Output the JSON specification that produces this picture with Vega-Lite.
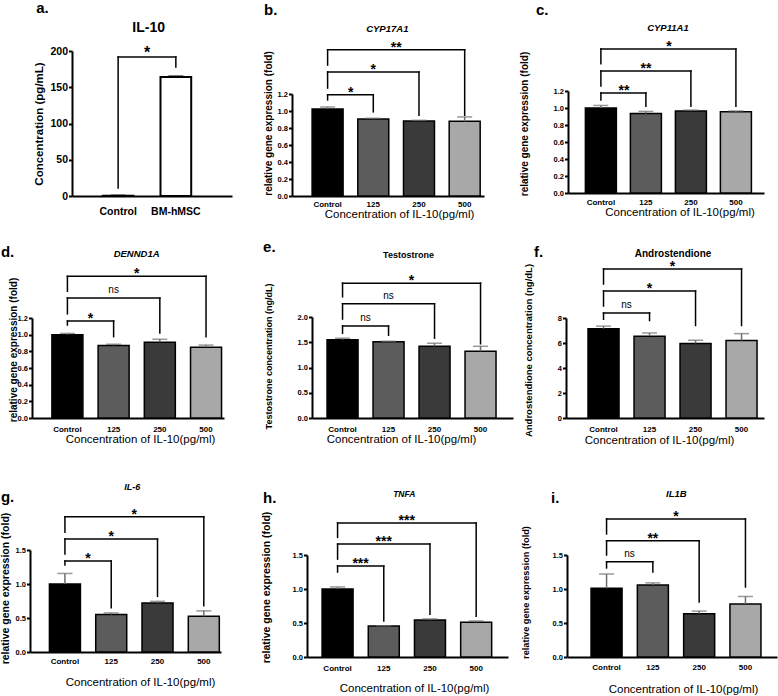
{
"$schema": "https://vega.github.io/schema/vega-lite/v6.json",
"padding": {"left": 0, "top": 1, "right": 0, "bottom": 0},
"background": "white",
"columns": 3,
"bounds": "flush",
"align": "each",
"spacing": {"row": 100, "column": 80},
"config": {
 "font": "Liberation Sans",
 "view": {"stroke": null},
 "axis": {"grid": false, "labelOverlap": false, "labelBound": false, "labelFlush": false, "domainColor": "#000000", "domainWidth": 2, "tickColor": "#000000", "tickWidth": 2, "labelColor": "#000000", "labelFont": "Liberation Sans", "labelFontWeight": "bold", "titleColor": "#000000", "titleFont": "Liberation Sans"},
 "axisX": {"ticks": false, "tickSize": 0, "labelAngle": 0, "labelFontSize": 8, "titleFontSize": 11.5, "titleFontWeight": "normal"},
 "axisY": {"tickSize": 3.5, "labelPadding": 1, "labelFontSize": 7.5, "titleFontWeight": "bold", "labelOverlap": false}
},
"concat": [
{
 "width": 160, "height": 145,
 "layer": [
  {"data": {"values": [{"g": "Control", "v": 0.3, "hi": 1}, {"g": "BM-hMSC", "v": 164, "hi": 165.5}]},
   "layer": [
    {"mark": {"type": "bar", "fill": "#ffffff", "stroke": "#000000", "strokeWidth": 2},
     "encoding": {
      "x": {"field": "g", "type": "nominal", "sort": null, "scale": {"domain": ["Control", "BM-hMSC"], "range": [0, 160], "paddingInner": 0.468, "paddingOuter": 0.62, "align": 0.43}, "axis": {"title": null, "labelFontSize": 10.5, "labelPadding": 10.5, "labelOverlap": false}},
      "y": {"field": "v", "type": "quantitative", "scale": {"domain": [0, 200], "range": [145, 0], "nice": false}, "axis": {"title": "Concentration (pg/mL)", "values": [0, 50, 100, 150, 200], "format": "d", "tickCount": 20, "labelOverlap": false, "labelFontSize": 10.5, "titleFontSize": 11.5, "titlePadding": 5}}
     }},
    {"mark": {"type": "rule", "color": "#000000", "strokeWidth": 1.5}, "encoding": {"x": {"field": "g", "type": "nominal"}, "y": {"field": "v", "type": "quantitative"}, "y2": {"field": "hi"}}},
    {"mark": {"type": "tick", "color": "#000000", "thickness": 1.5, "size": 15}, "encoding": {"x": {"field": "g", "type": "nominal"}, "y": {"field": "hi", "type": "quantitative"}}}
   ]},
  {"data": {"values": [{"from": "Control", "to": "BM-hMSC", "mid": "Control", "y": 191.7, "yl": 11, "yr": 178, "lab": "*"}]},
   "layer": [
    {"mark": {"type": "rule", "color": "#000000", "strokeWidth": 1.5, "strokeCap": "square"}, "encoding": {"x": {"field": "from", "type": "nominal"}, "x2": {"field": "to"}, "y": {"field": "y", "type": "quantitative"}}},
    {"mark": {"type": "rule", "color": "#000000", "strokeWidth": 1.5, "strokeCap": "square"}, "encoding": {"x": {"field": "from", "type": "nominal"}, "y": {"field": "y", "type": "quantitative"}, "y2": {"field": "yl"}}},
    {"mark": {"type": "rule", "color": "#000000", "strokeWidth": 1.5, "strokeCap": "square"}, "encoding": {"x": {"field": "to", "type": "nominal"}, "y": {"field": "y", "type": "quantitative"}, "y2": {"field": "yr"}}},
    {"mark": {"type": "text", "fontSize": 16, "fontWeight": "bold", "baseline": "alphabetic", "dx": 29, "dy": 1}, "encoding": {"x": {"field": "mid", "type": "nominal"}, "y": {"field": "y", "type": "quantitative"}, "text": {"field": "lab"}}}
   ]},
  {"data": {"values": [{"t": "a."}]}, "mark": {"type": "text", "fontSize": 15, "fontWeight": "bold", "align": "left", "baseline": "alphabetic", "dx": -82}, "encoding": {"x": {"datum": "Control"}, "y": {"datum": 252.4}, "text": {"field": "t"}}},
  {"data": {"values": [{"t": "IL-10"}]}, "mark": {"type": "text", "fontSize": 14, "fontWeight": "bold", "baseline": "alphabetic", "dx": 30.5}, "encoding": {"x": {"datum": "Control"}, "y": {"datum": 226.2}, "text": {"field": "t"}}}
 ]
},
{
 "width": 172, "height": 145,
 "layer": [
  {"data": {"values": [{"g": "Control", "v": 1.025, "hi": 1.047}, {"g": "125", "v": 0.905, "hi": 0.914}, {"g": "250", "v": 0.882, "hi": 0.89}, {"g": "500", "v": 0.878, "hi": 0.93}]},
   "layer": [
    {"mark": {"type": "bar", "stroke": "#000000", "strokeWidth": 1.5},
     "encoding": {
      "x": {"field": "g", "type": "nominal", "sort": null, "scale": {"domain": ["Control", "125", "250", "500"], "range": [-20, 172], "paddingInner": 0.322, "paddingOuter": 0.262, "align": 0.84}, "axis": {"title": "Concentration of IL-10(pg/ml)", "labelPadding": 4.6, "titlePadding": 0, "titleX": 87, "labelOverlap": false}},
      "y": {"field": "v", "type": "quantitative", "scale": {"domain": [0, 1.2], "range": [145, 43], "nice": false}, "axis": {"title": "relative gene expression (fold)", "values": [0, 0.2, 0.4, 0.6, 0.8, 1, 1.2], "tickCount": 20, "labelOverlap": false, "format": ".1f", "offset": 20, "titleFontSize": 10, "titlePadding": 4, "titleY": 72}},
      "color": {"field": "g", "type": "nominal", "scale": {"domain": ["Control", "125", "250", "500"], "range": ["#000000", "#5c5c5c", "#3a3a3a", "#a8a8a8"]}, "legend": null}
     }},
    {"mark": {"type": "rule", "color": "#6e6e6e", "strokeWidth": 1.5}, "encoding": {"x": {"field": "g", "type": "nominal"}, "y": {"field": "v", "type": "quantitative"}, "y2": {"field": "hi"}}},
    {"mark": {"type": "tick", "color": "#6e6e6e", "thickness": 1.5, "size": 15}, "encoding": {"x": {"field": "g", "type": "nominal"}, "y": {"field": "hi", "type": "quantitative"}}}
   ]},
  {"data": {"values": [
    {"from": "Control", "to": "125", "mid": "Control", "y": 1.19, "yl": 1.13, "yr": 0.99, "lab": "*"},
    {"from": "Control", "to": "250", "mid": "125", "y": 1.46, "yl": 1.27, "yr": 0.95, "lab": "*"},
    {"from": "Control", "to": "500", "mid": "125", "y": 1.72, "yl": 1.54, "yr": 0.95, "lab": "**"}]},
   "layer": [
    {"mark": {"type": "rule", "color": "#000000", "strokeWidth": 1.5, "strokeCap": "square"}, "encoding": {"x": {"field": "from", "type": "nominal"}, "x2": {"field": "to"}, "y": {"field": "y", "type": "quantitative"}}},
    {"mark": {"type": "rule", "color": "#000000", "strokeWidth": 1.5, "strokeCap": "square"}, "encoding": {"x": {"field": "from", "type": "nominal"}, "y": {"field": "y", "type": "quantitative"}, "y2": {"field": "yl"}}},
    {"mark": {"type": "rule", "color": "#000000", "strokeWidth": 1.5, "strokeCap": "square"}, "encoding": {"x": {"field": "to", "type": "nominal"}, "y": {"field": "y", "type": "quantitative"}, "y2": {"field": "yr"}}},
    {"transform": [{"filter": "datum.to == '250' && datum.lab != 'ns'"}], "mark": {"type": "text", "fontSize": 14, "fontWeight": "bold", "baseline": "alphabetic", "dy": 2}, "encoding": {"x": {"field": "mid", "type": "nominal"}, "y": {"field": "y", "type": "quantitative"}, "text": {"field": "lab"}}},
    {"transform": [{"filter": "datum.to != '250' && datum.lab != 'ns'"}], "mark": {"type": "text", "fontSize": 14, "fontWeight": "bold", "baseline": "alphabetic", "dy": 2, "dx": 23}, "encoding": {"x": {"field": "mid", "type": "nominal"}, "y": {"field": "y", "type": "quantitative"}, "text": {"field": "lab"}}}
   ]},
  {"data": {"values": [{"t": "b."}]}, "mark": {"type": "text", "fontSize": 15, "fontWeight": "bold", "align": "left", "baseline": "alphabetic", "dx": -63.5}, "encoding": {"x": {"datum": "Control"}, "y": {"datum": 2.129}, "text": {"field": "t"}}},
  {"data": {"values": [{"t": "CYP17A1"}]}, "mark": {"type": "text", "fontSize": 9.5, "fontWeight": "bold", "fontStyle": "italic", "baseline": "alphabetic", "dx": 14}, "encoding": {"x": {"datum": "125"}, "y": {"datum": 1.929}, "text": {"field": "t"}}}
 ]
},
{
 "width": 171, "height": 142,
 "layer": [
  {"data": {"values": [{"g": "Control", "v": 1.0, "hi": 1.03}, {"g": "125", "v": 0.935, "hi": 0.96}, {"g": "250", "v": 0.965, "hi": 0.975}, {"g": "500", "v": 0.955, "hi": 0.965}]},
   "layer": [
    {"mark": {"type": "bar", "stroke": "#000000", "strokeWidth": 1.5},
     "encoding": {
      "x": {"field": "g", "type": "nominal", "sort": null, "scale": {"domain": ["Control", "125", "250", "500"], "range": [-25, 171], "paddingInner": 0.311, "paddingOuter": 0.333, "align": 0.58}, "axis": {"title": "Concentration of IL-10(pg/ml)", "labelPadding": 5, "titlePadding": 0, "titleX": 86.5, "labelOverlap": false}},
      "y": {"field": "v", "type": "quantitative", "scale": {"domain": [0, 1.2], "range": [142, 40], "nice": false}, "axis": {"title": "relative gene expression (fold)", "values": [0, 0.2, 0.4, 0.6, 0.8, 1, 1.2], "tickCount": 20, "labelOverlap": false, "format": ".1f", "offset": 25, "titleFontSize": 10, "titlePadding": 24, "titleY": 72.5}},
      "color": {"field": "g", "type": "nominal", "scale": {"domain": ["Control", "125", "250", "500"], "range": ["#000000", "#5c5c5c", "#3a3a3a", "#a8a8a8"]}, "legend": null}
     }},
    {"mark": {"type": "rule", "color": "#6e6e6e", "strokeWidth": 1.5}, "encoding": {"x": {"field": "g", "type": "nominal"}, "y": {"field": "v", "type": "quantitative"}, "y2": {"field": "hi"}}},
    {"mark": {"type": "tick", "color": "#6e6e6e", "thickness": 1.5, "size": 15}, "encoding": {"x": {"field": "g", "type": "nominal"}, "y": {"field": "hi", "type": "quantitative"}}}
   ]},
  {"data": {"values": [
    {"from": "Control", "to": "125", "mid": "Control", "y": 1.176, "yl": 1.094, "yr": 1.02, "lab": "**"},
    {"from": "Control", "to": "250", "mid": "125", "y": 1.435, "yl": 1.26, "yr": 1.02, "lab": "**"},
    {"from": "Control", "to": "500", "mid": "125", "y": 1.694, "yl": 1.52, "yr": 1.02, "lab": "*"}]},
   "layer": [
    {"mark": {"type": "rule", "color": "#000000", "strokeWidth": 1.5, "strokeCap": "square"}, "encoding": {"x": {"field": "from", "type": "nominal"}, "x2": {"field": "to"}, "y": {"field": "y", "type": "quantitative"}}},
    {"mark": {"type": "rule", "color": "#000000", "strokeWidth": 1.5, "strokeCap": "square"}, "encoding": {"x": {"field": "from", "type": "nominal"}, "y": {"field": "y", "type": "quantitative"}, "y2": {"field": "yl"}}},
    {"mark": {"type": "rule", "color": "#000000", "strokeWidth": 1.5, "strokeCap": "square"}, "encoding": {"x": {"field": "to", "type": "nominal"}, "y": {"field": "y", "type": "quantitative"}, "y2": {"field": "yr"}}},
    {"transform": [{"filter": "datum.to == '250' && datum.lab != 'ns'"}], "mark": {"type": "text", "fontSize": 14, "fontWeight": "bold", "baseline": "alphabetic", "dy": 2}, "encoding": {"x": {"field": "mid", "type": "nominal"}, "y": {"field": "y", "type": "quantitative"}, "text": {"field": "lab"}}},
    {"transform": [{"filter": "datum.to != '250' && datum.lab != 'ns'"}], "mark": {"type": "text", "fontSize": 14, "fontWeight": "bold", "baseline": "alphabetic", "dy": 2, "dx": 23}, "encoding": {"x": {"field": "mid", "type": "nominal"}, "y": {"field": "y", "type": "quantitative"}, "text": {"field": "lab"}}}
   ]},
  {"data": {"values": [{"t": "c."}]}, "mark": {"type": "text", "fontSize": 15, "fontWeight": "bold", "align": "left", "baseline": "alphabetic", "dx": -65}, "encoding": {"x": {"datum": "Control"}, "y": {"datum": 2.094}, "text": {"field": "t"}}},
  {"data": {"values": [{"t": "CYP11A1"}]}, "mark": {"type": "text", "fontSize": 9.5, "fontWeight": "bold", "fontStyle": "italic", "baseline": "alphabetic", "dx": 22}, "encoding": {"x": {"datum": "125"}, "y": {"datum": 1.906}, "text": {"field": "t"}}}
 ]
},
{
 "width": 152, "height": 122,
 "layer": [
  {"data": {"values": [{"g": "Control", "v": 1.0, "hi": 1.015}, {"g": "125", "v": 0.87, "hi": 0.885}, {"g": "250", "v": 0.91, "hi": 0.945}, {"g": "500", "v": 0.85, "hi": 0.875}]},
   "layer": [
    {"mark": {"type": "bar", "stroke": "#000000", "strokeWidth": 1.5},
     "encoding": {
      "x": {"field": "g", "type": "nominal", "sort": null, "scale": {"domain": ["Control", "125", "250", "500"], "range": [-40, 152], "paddingInner": 0.329, "paddingOuter": 0.242, "align": 0.89}, "axis": {"title": "Concentration of IL-10(pg/ml)", "labelPadding": 7, "titlePadding": 0, "titleX": 68, "labelOverlap": false}},
      "y": {"field": "v", "type": "quantitative", "scale": {"domain": [0, 1.2], "range": [122, 22], "nice": false}, "axis": {"title": "relative gene expression (fold)", "values": [0, 0.2, 0.4, 0.6, 0.8, 1, 1.2], "tickCount": 20, "labelOverlap": false, "format": ".1f", "offset": 40, "titleFontSize": 10, "titlePadding": -1, "titleY": 53.5}},
      "color": {"field": "g", "type": "nominal", "scale": {"domain": ["Control", "125", "250", "500"], "range": ["#000000", "#5c5c5c", "#3a3a3a", "#a8a8a8"]}, "legend": null}
     }},
    {"mark": {"type": "rule", "color": "#6e6e6e", "strokeWidth": 1.5}, "encoding": {"x": {"field": "g", "type": "nominal"}, "y": {"field": "v", "type": "quantitative"}, "y2": {"field": "hi"}}},
    {"mark": {"type": "tick", "color": "#6e6e6e", "thickness": 1.5, "size": 15}, "encoding": {"x": {"field": "g", "type": "nominal"}, "y": {"field": "hi", "type": "quantitative"}}}
   ]},
  {"data": {"values": [
    {"from": "Control", "to": "125", "mid": "Control", "y": 1.164, "yl": 1.116, "yr": 0.976, "lab": "*"},
    {"from": "Control", "to": "250", "mid": "125", "y": 1.44, "yl": 1.25, "yr": 1.02, "lab": "ns"},
    {"from": "Control", "to": "500", "mid": "125", "y": 1.70, "yl": 1.52, "yr": 0.976, "lab": "*"}]},
   "layer": [
    {"mark": {"type": "rule", "color": "#000000", "strokeWidth": 1.5, "strokeCap": "square"}, "encoding": {"x": {"field": "from", "type": "nominal"}, "x2": {"field": "to"}, "y": {"field": "y", "type": "quantitative"}}},
    {"mark": {"type": "rule", "color": "#000000", "strokeWidth": 1.5, "strokeCap": "square"}, "encoding": {"x": {"field": "from", "type": "nominal"}, "y": {"field": "y", "type": "quantitative"}, "y2": {"field": "yl"}}},
    {"mark": {"type": "rule", "color": "#000000", "strokeWidth": 1.5, "strokeCap": "square"}, "encoding": {"x": {"field": "to", "type": "nominal"}, "y": {"field": "y", "type": "quantitative"}, "y2": {"field": "yr"}}},
    {"transform": [{"filter": "datum.to != '250' && datum.lab != 'ns'"}], "mark": {"type": "text", "fontSize": 14, "fontWeight": "bold", "baseline": "alphabetic", "dy": 2, "dx": 23}, "encoding": {"x": {"field": "mid", "type": "nominal"}, "y": {"field": "y", "type": "quantitative"}, "text": {"field": "lab"}}},
    {"transform": [{"filter": "datum.to == '250' && datum.lab == 'ns'"}], "mark": {"type": "text", "fontSize": 10, "baseline": "alphabetic", "dy": -5}, "encoding": {"x": {"field": "mid", "type": "nominal"}, "y": {"field": "y", "type": "quantitative"}, "text": {"field": "lab"}}}
   ]},
  {"data": {"values": [{"t": "d."}]}, "mark": {"type": "text", "fontSize": 15, "fontWeight": "bold", "align": "left", "baseline": "alphabetic", "dx": -66.5}, "encoding": {"x": {"datum": "Control"}, "y": {"datum": 1.933}, "text": {"field": "t"}}},
  {"data": {"values": [{"t": "DENND1A"}]}, "mark": {"type": "text", "fontSize": 9.5, "fontWeight": "bold", "fontStyle": "italic", "baseline": "alphabetic", "dx": 23}, "encoding": {"x": {"datum": "125"}, "y": {"datum": 1.933}, "text": {"field": "t"}}}
 ]
},
{
 "width": 201, "height": 122,
 "layer": [
  {"data": {"values": [{"g": "Control", "v": 1.55, "hi": 1.58}, {"g": "125", "v": 1.51, "hi": 1.52}, {"g": "250", "v": 1.42, "hi": 1.48}, {"g": "500", "v": 1.32, "hi": 1.42}]},
   "layer": [
    {"mark": {"type": "bar", "stroke": "#000000", "strokeWidth": 1.5},
     "encoding": {
      "x": {"field": "g", "type": "nominal", "sort": null, "scale": {"domain": ["Control", "125", "250", "500"], "range": [0, 201], "paddingInner": 0.326, "paddingOuter": 0.348, "align": 0.47}, "axis": {"title": "Concentration of IL-10(pg/ml)", "labelPadding": 7, "titlePadding": 0, "titleX": 89, "labelOverlap": false}},
      "y": {"field": "v", "type": "quantitative", "scale": {"domain": [0, 2], "range": [122, 21], "nice": false}, "axis": {"title": "Testostrone concentration (ng/dL)", "values": [0, 0.5, 1, 1.5, 2], "tickCount": 20, "labelOverlap": false, "format": ".1f", "titleFontSize": 9, "titlePadding": 23.6, "titleY": 60}},
      "color": {"field": "g", "type": "nominal", "scale": {"domain": ["Control", "125", "250", "500"], "range": ["#000000", "#5c5c5c", "#3a3a3a", "#a8a8a8"]}, "legend": null}
     }},
    {"mark": {"type": "rule", "color": "#6e6e6e", "strokeWidth": 1.5}, "encoding": {"x": {"field": "g", "type": "nominal"}, "y": {"field": "v", "type": "quantitative"}, "y2": {"field": "hi"}}},
    {"mark": {"type": "tick", "color": "#6e6e6e", "thickness": 1.5, "size": 15}, "encoding": {"x": {"field": "g", "type": "nominal"}, "y": {"field": "hi", "type": "quantitative"}}}
   ]},
  {"data": {"values": [
    {"from": "Control", "to": "125", "mid": "Control", "y": 1.82, "yl": 1.68, "yr": 1.64, "lab": "ns"},
    {"from": "Control", "to": "250", "mid": "125", "y": 2.26, "yl": 1.96, "yr": 1.58, "lab": "ns"},
    {"from": "Control", "to": "500", "mid": "125", "y": 2.67, "yl": 2.40, "yr": 1.47, "lab": "*"}]},
   "layer": [
    {"mark": {"type": "rule", "color": "#000000", "strokeWidth": 1.5, "strokeCap": "square"}, "encoding": {"x": {"field": "from", "type": "nominal"}, "x2": {"field": "to"}, "y": {"field": "y", "type": "quantitative"}}},
    {"mark": {"type": "rule", "color": "#000000", "strokeWidth": 1.5, "strokeCap": "square"}, "encoding": {"x": {"field": "from", "type": "nominal"}, "y": {"field": "y", "type": "quantitative"}, "y2": {"field": "yl"}}},
    {"mark": {"type": "rule", "color": "#000000", "strokeWidth": 1.5, "strokeCap": "square"}, "encoding": {"x": {"field": "to", "type": "nominal"}, "y": {"field": "y", "type": "quantitative"}, "y2": {"field": "yr"}}},
    {"transform": [{"filter": "datum.to != '250' && datum.lab != 'ns'"}], "mark": {"type": "text", "fontSize": 14, "fontWeight": "bold", "baseline": "alphabetic", "dy": 2, "dx": 23}, "encoding": {"x": {"field": "mid", "type": "nominal"}, "y": {"field": "y", "type": "quantitative"}, "text": {"field": "lab"}}},
    {"transform": [{"filter": "datum.to == '250' && datum.lab == 'ns'"}], "mark": {"type": "text", "fontSize": 10, "baseline": "alphabetic", "dy": -5}, "encoding": {"x": {"field": "mid", "type": "nominal"}, "y": {"field": "y", "type": "quantitative"}, "text": {"field": "lab"}}},
    {"transform": [{"filter": "datum.to != '250' && datum.lab == 'ns'"}], "mark": {"type": "text", "fontSize": 10, "baseline": "alphabetic", "dy": -5, "dx": 23}, "encoding": {"x": {"field": "mid", "type": "nominal"}, "y": {"field": "y", "type": "quantitative"}, "text": {"field": "lab"}}}
   ]},
  {"data": {"values": [{"t": "e."}]}, "mark": {"type": "text", "fontSize": 15, "fontWeight": "bold", "align": "left", "baseline": "alphabetic", "dx": -79.5}, "encoding": {"x": {"datum": "Control"}, "y": {"datum": 3.287}, "text": {"field": "t"}}},
  {"data": {"values": [{"t": "Testostrone"}]}, "mark": {"type": "text", "fontSize": 9, "fontWeight": "bold", "baseline": "alphabetic", "dx": 20}, "encoding": {"x": {"datum": "125"}, "y": {"datum": 3.168}, "text": {"field": "t"}}}
 ]
},
{
 "width": 171, "height": 122,
 "layer": [
  {"data": {"values": [{"g": "Control", "v": 7.15, "hi": 7.35}, {"g": "125", "v": 6.55, "hi": 6.8}, {"g": "250", "v": 5.97, "hi": 6.22}, {"g": "500", "v": 6.2, "hi": 6.75}]},
   "layer": [
    {"mark": {"type": "bar", "stroke": "#000000", "strokeWidth": 1.5},
     "encoding": {
      "x": {"field": "g", "type": "nominal", "sort": null, "scale": {"domain": ["Control", "125", "250", "500"], "range": [-27, 171], "paddingInner": 0.326, "paddingOuter": 0.315, "align": 0.76}, "axis": {"title": "Concentration of IL-10(pg/ml)", "labelPadding": 7, "titlePadding": 1, "titleX": 66, "labelOverlap": false}},
      "y": {"field": "v", "type": "quantitative", "scale": {"domain": [0, 8], "range": [122, 22], "nice": false}, "axis": {"title": "Androstendione concentration (ng/dL)", "values": [0, 2, 4, 6, 8], "format": "d", "tickCount": 20, "labelOverlap": false, "offset": 27, "titleFontSize": 9.5, "titlePadding": 23.5, "titleY": 54}},
      "color": {"field": "g", "type": "nominal", "scale": {"domain": ["Control", "125", "250", "500"], "range": ["#000000", "#5c5c5c", "#3a3a3a", "#a8a8a8"]}, "legend": null}
     }},
    {"mark": {"type": "rule", "color": "#6e6e6e", "strokeWidth": 1.5}, "encoding": {"x": {"field": "g", "type": "nominal"}, "y": {"field": "v", "type": "quantitative"}, "y2": {"field": "hi"}}},
    {"mark": {"type": "tick", "color": "#6e6e6e", "thickness": 1.5, "size": 15}, "encoding": {"x": {"field": "g", "type": "nominal"}, "y": {"field": "hi", "type": "quantitative"}}}
   ]},
  {"data": {"values": [
    {"from": "Control", "to": "125", "mid": "Control", "y": 8.4, "yl": 7.9, "yr": 7.8, "lab": "ns"},
    {"from": "Control", "to": "250", "mid": "125", "y": 10.16, "yl": 8.96, "yr": 7.4, "lab": "*"},
    {"from": "Control", "to": "500", "mid": "125", "y": 11.92, "yl": 10.72, "yr": 7.4, "lab": "*"}]},
   "layer": [
    {"mark": {"type": "rule", "color": "#000000", "strokeWidth": 1.5, "strokeCap": "square"}, "encoding": {"x": {"field": "from", "type": "nominal"}, "x2": {"field": "to"}, "y": {"field": "y", "type": "quantitative"}}},
    {"mark": {"type": "rule", "color": "#000000", "strokeWidth": 1.5, "strokeCap": "square"}, "encoding": {"x": {"field": "from", "type": "nominal"}, "y": {"field": "y", "type": "quantitative"}, "y2": {"field": "yl"}}},
    {"mark": {"type": "rule", "color": "#000000", "strokeWidth": 1.5, "strokeCap": "square"}, "encoding": {"x": {"field": "to", "type": "nominal"}, "y": {"field": "y", "type": "quantitative"}, "y2": {"field": "yr"}}},
    {"transform": [{"filter": "datum.to == '250' && datum.lab != 'ns'"}], "mark": {"type": "text", "fontSize": 14, "fontWeight": "bold", "baseline": "alphabetic", "dy": 2}, "encoding": {"x": {"field": "mid", "type": "nominal"}, "y": {"field": "y", "type": "quantitative"}, "text": {"field": "lab"}}},
    {"transform": [{"filter": "datum.to != '250' && datum.lab != 'ns'"}], "mark": {"type": "text", "fontSize": 14, "fontWeight": "bold", "baseline": "alphabetic", "dy": 2, "dx": 23}, "encoding": {"x": {"field": "mid", "type": "nominal"}, "y": {"field": "y", "type": "quantitative"}, "text": {"field": "lab"}}},
    {"transform": [{"filter": "datum.to != '250' && datum.lab == 'ns'"}], "mark": {"type": "text", "fontSize": 10, "baseline": "alphabetic", "dy": -5, "dx": 23}, "encoding": {"x": {"field": "mid", "type": "nominal"}, "y": {"field": "y", "type": "quantitative"}, "text": {"field": "lab"}}}
   ]},
  {"data": {"values": [{"t": "f."}]}, "mark": {"type": "text", "fontSize": 15, "fontWeight": "bold", "align": "left", "baseline": "alphabetic", "dx": -69.5}, "encoding": {"x": {"datum": "Control"}, "y": {"datum": 12.88}, "text": {"field": "t"}}},
  {"data": {"values": [{"t": "Androstendione"}]}, "mark": {"type": "text", "fontSize": 10, "fontWeight": "bold", "baseline": "alphabetic", "dx": 23.5}, "encoding": {"x": {"datum": "125"}, "y": {"datum": 12.88}, "text": {"field": "t"}}}
 ]
},
{
 "width": 149, "height": 134,
 "layer": [
  {"data": {"values": [{"g": "Control", "v": 1.0, "hi": 1.155}, {"g": "125", "v": 0.55, "hi": 0.575}, {"g": "250", "v": 0.72, "hi": 0.745}, {"g": "500", "v": 0.525, "hi": 0.605}]},
   "layer": [
    {"mark": {"type": "bar", "stroke": "#000000", "strokeWidth": 1.5},
     "encoding": {
      "x": {"field": "g", "type": "nominal", "sort": null, "scale": {"domain": ["Control", "125", "250", "500"], "range": [-42, 149], "paddingInner": 0.33, "paddingOuter": 0.228, "align": 0.92}, "axis": {"title": "Concentration of IL-10(pg/ml)", "labelPadding": 5.6, "titlePadding": 11.1, "titleX": 68, "labelOverlap": false}},
      "y": {"field": "v", "type": "quantitative", "scale": {"domain": [0, 1.5], "range": [134, 32], "nice": false}, "axis": {"title": "relative gene expression (fold)", "values": [0, 0.5, 1, 1.5], "tickCount": 20, "labelOverlap": false, "format": ".1f", "offset": 42, "titleFontSize": 10.5, "titlePadding": 4.8, "titleY": 70}},
      "color": {"field": "g", "type": "nominal", "scale": {"domain": ["Control", "125", "250", "500"], "range": ["#000000", "#5c5c5c", "#3a3a3a", "#a8a8a8"]}, "legend": null}
     }},
    {"mark": {"type": "rule", "color": "#6e6e6e", "strokeWidth": 1.5}, "encoding": {"x": {"field": "g", "type": "nominal"}, "y": {"field": "v", "type": "quantitative"}, "y2": {"field": "hi"}}},
    {"mark": {"type": "tick", "color": "#6e6e6e", "thickness": 1.5, "size": 15}, "encoding": {"x": {"field": "g", "type": "nominal"}, "y": {"field": "hi", "type": "quantitative"}}}
   ]},
  {"data": {"values": [
    {"from": "Control", "to": "125", "mid": "Control", "y": 1.34, "yl": 1.28, "yr": 0.65, "lab": "*"},
    {"from": "Control", "to": "250", "mid": "125", "y": 1.66, "yl": 1.44, "yr": 0.82, "lab": "*"},
    {"from": "Control", "to": "500", "mid": "125", "y": 1.99, "yl": 1.76, "yr": 0.68, "lab": "*"}]},
   "layer": [
    {"mark": {"type": "rule", "color": "#000000", "strokeWidth": 1.5, "strokeCap": "square"}, "encoding": {"x": {"field": "from", "type": "nominal"}, "x2": {"field": "to"}, "y": {"field": "y", "type": "quantitative"}}},
    {"mark": {"type": "rule", "color": "#000000", "strokeWidth": 1.5, "strokeCap": "square"}, "encoding": {"x": {"field": "from", "type": "nominal"}, "y": {"field": "y", "type": "quantitative"}, "y2": {"field": "yl"}}},
    {"mark": {"type": "rule", "color": "#000000", "strokeWidth": 1.5, "strokeCap": "square"}, "encoding": {"x": {"field": "to", "type": "nominal"}, "y": {"field": "y", "type": "quantitative"}, "y2": {"field": "yr"}}},
    {"transform": [{"filter": "datum.to == '250' && datum.lab != 'ns'"}], "mark": {"type": "text", "fontSize": 14, "fontWeight": "bold", "baseline": "alphabetic", "dy": 2}, "encoding": {"x": {"field": "mid", "type": "nominal"}, "y": {"field": "y", "type": "quantitative"}, "text": {"field": "lab"}}},
    {"transform": [{"filter": "datum.to != '250' && datum.lab != 'ns'"}], "mark": {"type": "text", "fontSize": 14, "fontWeight": "bold", "baseline": "alphabetic", "dy": 2, "dx": 23}, "encoding": {"x": {"field": "mid", "type": "nominal"}, "y": {"field": "y", "type": "quantitative"}, "text": {"field": "lab"}}}
   ]},
  {"data": {"values": [{"t": "g."}]}, "mark": {"type": "text", "fontSize": 15, "fontWeight": "bold", "align": "left", "baseline": "alphabetic", "dx": -64}, "encoding": {"x": {"datum": "Control"}, "y": {"datum": 2.206}, "text": {"field": "t"}}},
  {"data": {"values": [{"t": "IL-6"}]}, "mark": {"type": "text", "fontSize": 9, "fontWeight": "bold", "fontStyle": "italic", "baseline": "alphabetic", "dx": 21}, "encoding": {"x": {"datum": "125"}, "y": {"datum": 2.382}, "text": {"field": "t"}}}
 ]
},
{
 "width": 196, "height": 139,
 "layer": [
  {"data": {"values": [{"g": "Control", "v": 1.0, "hi": 1.03}, {"g": "125", "v": 0.455, "hi": 0.46}, {"g": "250", "v": 0.545, "hi": 0.56}, {"g": "500", "v": 0.51, "hi": 0.53}]},
   "layer": [
    {"mark": {"type": "bar", "stroke": "#000000", "strokeWidth": 1.5},
     "encoding": {
      "x": {"field": "g", "type": "nominal", "sort": null, "scale": {"domain": ["Control", "125", "250", "500"], "range": [-5, 196], "paddingInner": 0.329, "paddingOuter": 0.34, "align": 0.48}, "axis": {"title": "Concentration of IL-10(pg/ml)", "labelPadding": 7.6, "titlePadding": 10.1, "titleX": 102, "labelOverlap": false}},
      "y": {"field": "v", "type": "quantitative", "scale": {"domain": [0, 1.5], "range": [139, 37], "nice": false}, "axis": {"title": "relative gene expression (fold)", "values": [0, 0.5, 1, 1.5], "tickCount": 20, "labelOverlap": false, "format": ".1f", "offset": 5, "titleFontSize": 10.5, "titlePadding": 20.8, "titleY": 69}},
      "color": {"field": "g", "type": "nominal", "scale": {"domain": ["Control", "125", "250", "500"], "range": ["#000000", "#5c5c5c", "#3a3a3a", "#a8a8a8"]}, "legend": null}
     }},
    {"mark": {"type": "rule", "color": "#6e6e6e", "strokeWidth": 1.5}, "encoding": {"x": {"field": "g", "type": "nominal"}, "y": {"field": "v", "type": "quantitative"}, "y2": {"field": "hi"}}},
    {"mark": {"type": "tick", "color": "#6e6e6e", "thickness": 1.5, "size": 15}, "encoding": {"x": {"field": "g", "type": "nominal"}, "y": {"field": "hi", "type": "quantitative"}}}
   ]},
  {"data": {"values": [
    {"from": "Control", "to": "125", "mid": "Control", "y": 1.34, "yl": 1.25, "yr": 0.53, "lab": "***"},
    {"from": "Control", "to": "250", "mid": "125", "y": 1.66, "yl": 1.44, "yr": 0.63, "lab": "***"},
    {"from": "Control", "to": "500", "mid": "125", "y": 1.97, "yl": 1.76, "yr": 0.60, "lab": "***"}]},
   "layer": [
    {"mark": {"type": "rule", "color": "#000000", "strokeWidth": 1.5, "strokeCap": "square"}, "encoding": {"x": {"field": "from", "type": "nominal"}, "x2": {"field": "to"}, "y": {"field": "y", "type": "quantitative"}}},
    {"mark": {"type": "rule", "color": "#000000", "strokeWidth": 1.5, "strokeCap": "square"}, "encoding": {"x": {"field": "from", "type": "nominal"}, "y": {"field": "y", "type": "quantitative"}, "y2": {"field": "yl"}}},
    {"mark": {"type": "rule", "color": "#000000", "strokeWidth": 1.5, "strokeCap": "square"}, "encoding": {"x": {"field": "to", "type": "nominal"}, "y": {"field": "y", "type": "quantitative"}, "y2": {"field": "yr"}}},
    {"transform": [{"filter": "datum.to == '250' && datum.lab != 'ns'"}], "mark": {"type": "text", "fontSize": 14, "fontWeight": "bold", "baseline": "alphabetic", "dy": 2}, "encoding": {"x": {"field": "mid", "type": "nominal"}, "y": {"field": "y", "type": "quantitative"}, "text": {"field": "lab"}}},
    {"transform": [{"filter": "datum.to != '250' && datum.lab != 'ns'"}], "mark": {"type": "text", "fontSize": 14, "fontWeight": "bold", "baseline": "alphabetic", "dy": 2, "dx": 23}, "encoding": {"x": {"field": "mid", "type": "nominal"}, "y": {"field": "y", "type": "quantitative"}, "text": {"field": "lab"}}}
   ]},
  {"data": {"values": [{"t": "h."}]}, "mark": {"type": "text", "fontSize": 15, "fontWeight": "bold", "align": "left", "baseline": "alphabetic", "dx": -74.5}, "encoding": {"x": {"datum": "Control"}, "y": {"datum": 2.265}, "text": {"field": "t"}}},
  {"data": {"values": [{"t": "TNFA"}]}, "mark": {"type": "text", "fontSize": 8.5, "fontWeight": "bold", "fontStyle": "italic", "baseline": "alphabetic", "dx": 20.5}, "encoding": {"x": {"datum": "125"}, "y": {"datum": 2.353}, "text": {"field": "t"}}}
 ]
},
{
 "width": 184, "height": 139,
 "layer": [
  {"data": {"values": [{"g": "Control", "v": 1.01, "hi": 1.22}, {"g": "125", "v": 1.06, "hi": 1.09}, {"g": "250", "v": 0.635, "hi": 0.675}, {"g": "500", "v": 0.78, "hi": 0.89}]},
   "layer": [
    {"mark": {"type": "bar", "stroke": "#000000", "strokeWidth": 1.5},
     "encoding": {
      "x": {"field": "g", "type": "nominal", "sort": null, "scale": {"domain": ["Control", "125", "250", "500"], "range": [-26, 184], "paddingInner": 0.33, "paddingOuter": 0.433, "align": 0.6}, "axis": {"title": "Concentration of IL-10(pg/ml)", "labelPadding": 6.6, "titlePadding": 12.1, "titleX": 90, "labelOverlap": false}},
      "y": {"field": "v", "type": "quantitative", "scale": {"domain": [0, 1.5], "range": [139, 37], "nice": false}, "axis": {"title": "relative gene expression (fold)", "values": [0, 0.5, 1, 1.5], "tickCount": 20, "labelOverlap": false, "format": ".1f", "offset": 26, "titleFontSize": 9.2, "titlePadding": 21.5, "titleY": 74}},
      "color": {"field": "g", "type": "nominal", "scale": {"domain": ["Control", "125", "250", "500"], "range": ["#000000", "#5c5c5c", "#3a3a3a", "#a8a8a8"]}, "legend": null}
     }},
    {"mark": {"type": "rule", "color": "#6e6e6e", "strokeWidth": 1.5}, "encoding": {"x": {"field": "g", "type": "nominal"}, "y": {"field": "v", "type": "quantitative"}, "y2": {"field": "hi"}}},
    {"mark": {"type": "tick", "color": "#6e6e6e", "thickness": 1.5, "size": 15}, "encoding": {"x": {"field": "g", "type": "nominal"}, "y": {"field": "hi", "type": "quantitative"}}}
   ]},
  {"data": {"values": [
    {"from": "Control", "to": "125", "mid": "Control", "y": 1.40, "yl": 1.31, "yr": 1.25, "lab": "ns"},
    {"from": "Control", "to": "250", "mid": "125", "y": 1.71, "yl": 1.50, "yr": 0.81, "lab": "**"},
    {"from": "Control", "to": "500", "mid": "125", "y": 2.03, "yl": 1.81, "yr": 1.03, "lab": "*"}]},
   "layer": [
    {"mark": {"type": "rule", "color": "#000000", "strokeWidth": 1.5, "strokeCap": "square"}, "encoding": {"x": {"field": "from", "type": "nominal"}, "x2": {"field": "to"}, "y": {"field": "y", "type": "quantitative"}}},
    {"mark": {"type": "rule", "color": "#000000", "strokeWidth": 1.5, "strokeCap": "square"}, "encoding": {"x": {"field": "from", "type": "nominal"}, "y": {"field": "y", "type": "quantitative"}, "y2": {"field": "yl"}}},
    {"mark": {"type": "rule", "color": "#000000", "strokeWidth": 1.5, "strokeCap": "square"}, "encoding": {"x": {"field": "to", "type": "nominal"}, "y": {"field": "y", "type": "quantitative"}, "y2": {"field": "yr"}}},
    {"transform": [{"filter": "datum.to == '250' && datum.lab != 'ns'"}], "mark": {"type": "text", "fontSize": 14, "fontWeight": "bold", "baseline": "alphabetic", "dy": 2}, "encoding": {"x": {"field": "mid", "type": "nominal"}, "y": {"field": "y", "type": "quantitative"}, "text": {"field": "lab"}}},
    {"transform": [{"filter": "datum.to != '250' && datum.lab != 'ns'"}], "mark": {"type": "text", "fontSize": 14, "fontWeight": "bold", "baseline": "alphabetic", "dy": 2, "dx": 23}, "encoding": {"x": {"field": "mid", "type": "nominal"}, "y": {"field": "y", "type": "quantitative"}, "text": {"field": "lab"}}},
    {"transform": [{"filter": "datum.to != '250' && datum.lab == 'ns'"}], "mark": {"type": "text", "fontSize": 10, "baseline": "alphabetic", "dy": -5, "dx": 23}, "encoding": {"x": {"field": "mid", "type": "nominal"}, "y": {"field": "y", "type": "quantitative"}, "text": {"field": "lab"}}}
   ]},
  {"data": {"values": [{"t": "i."}]}, "mark": {"type": "text", "fontSize": 15, "fontWeight": "bold", "align": "left", "baseline": "alphabetic", "dx": -55.5}, "encoding": {"x": {"datum": "Control"}, "y": {"datum": 2.265}, "text": {"field": "t"}}},
  {"data": {"values": [{"t": "IL1B"}]}, "mark": {"type": "text", "fontSize": 9.5, "fontWeight": "bold", "fontStyle": "italic", "baseline": "alphabetic", "dx": 23.5}, "encoding": {"x": {"datum": "125"}, "y": {"datum": 2.353}, "text": {"field": "t"}}}
 ]
}
]
}
